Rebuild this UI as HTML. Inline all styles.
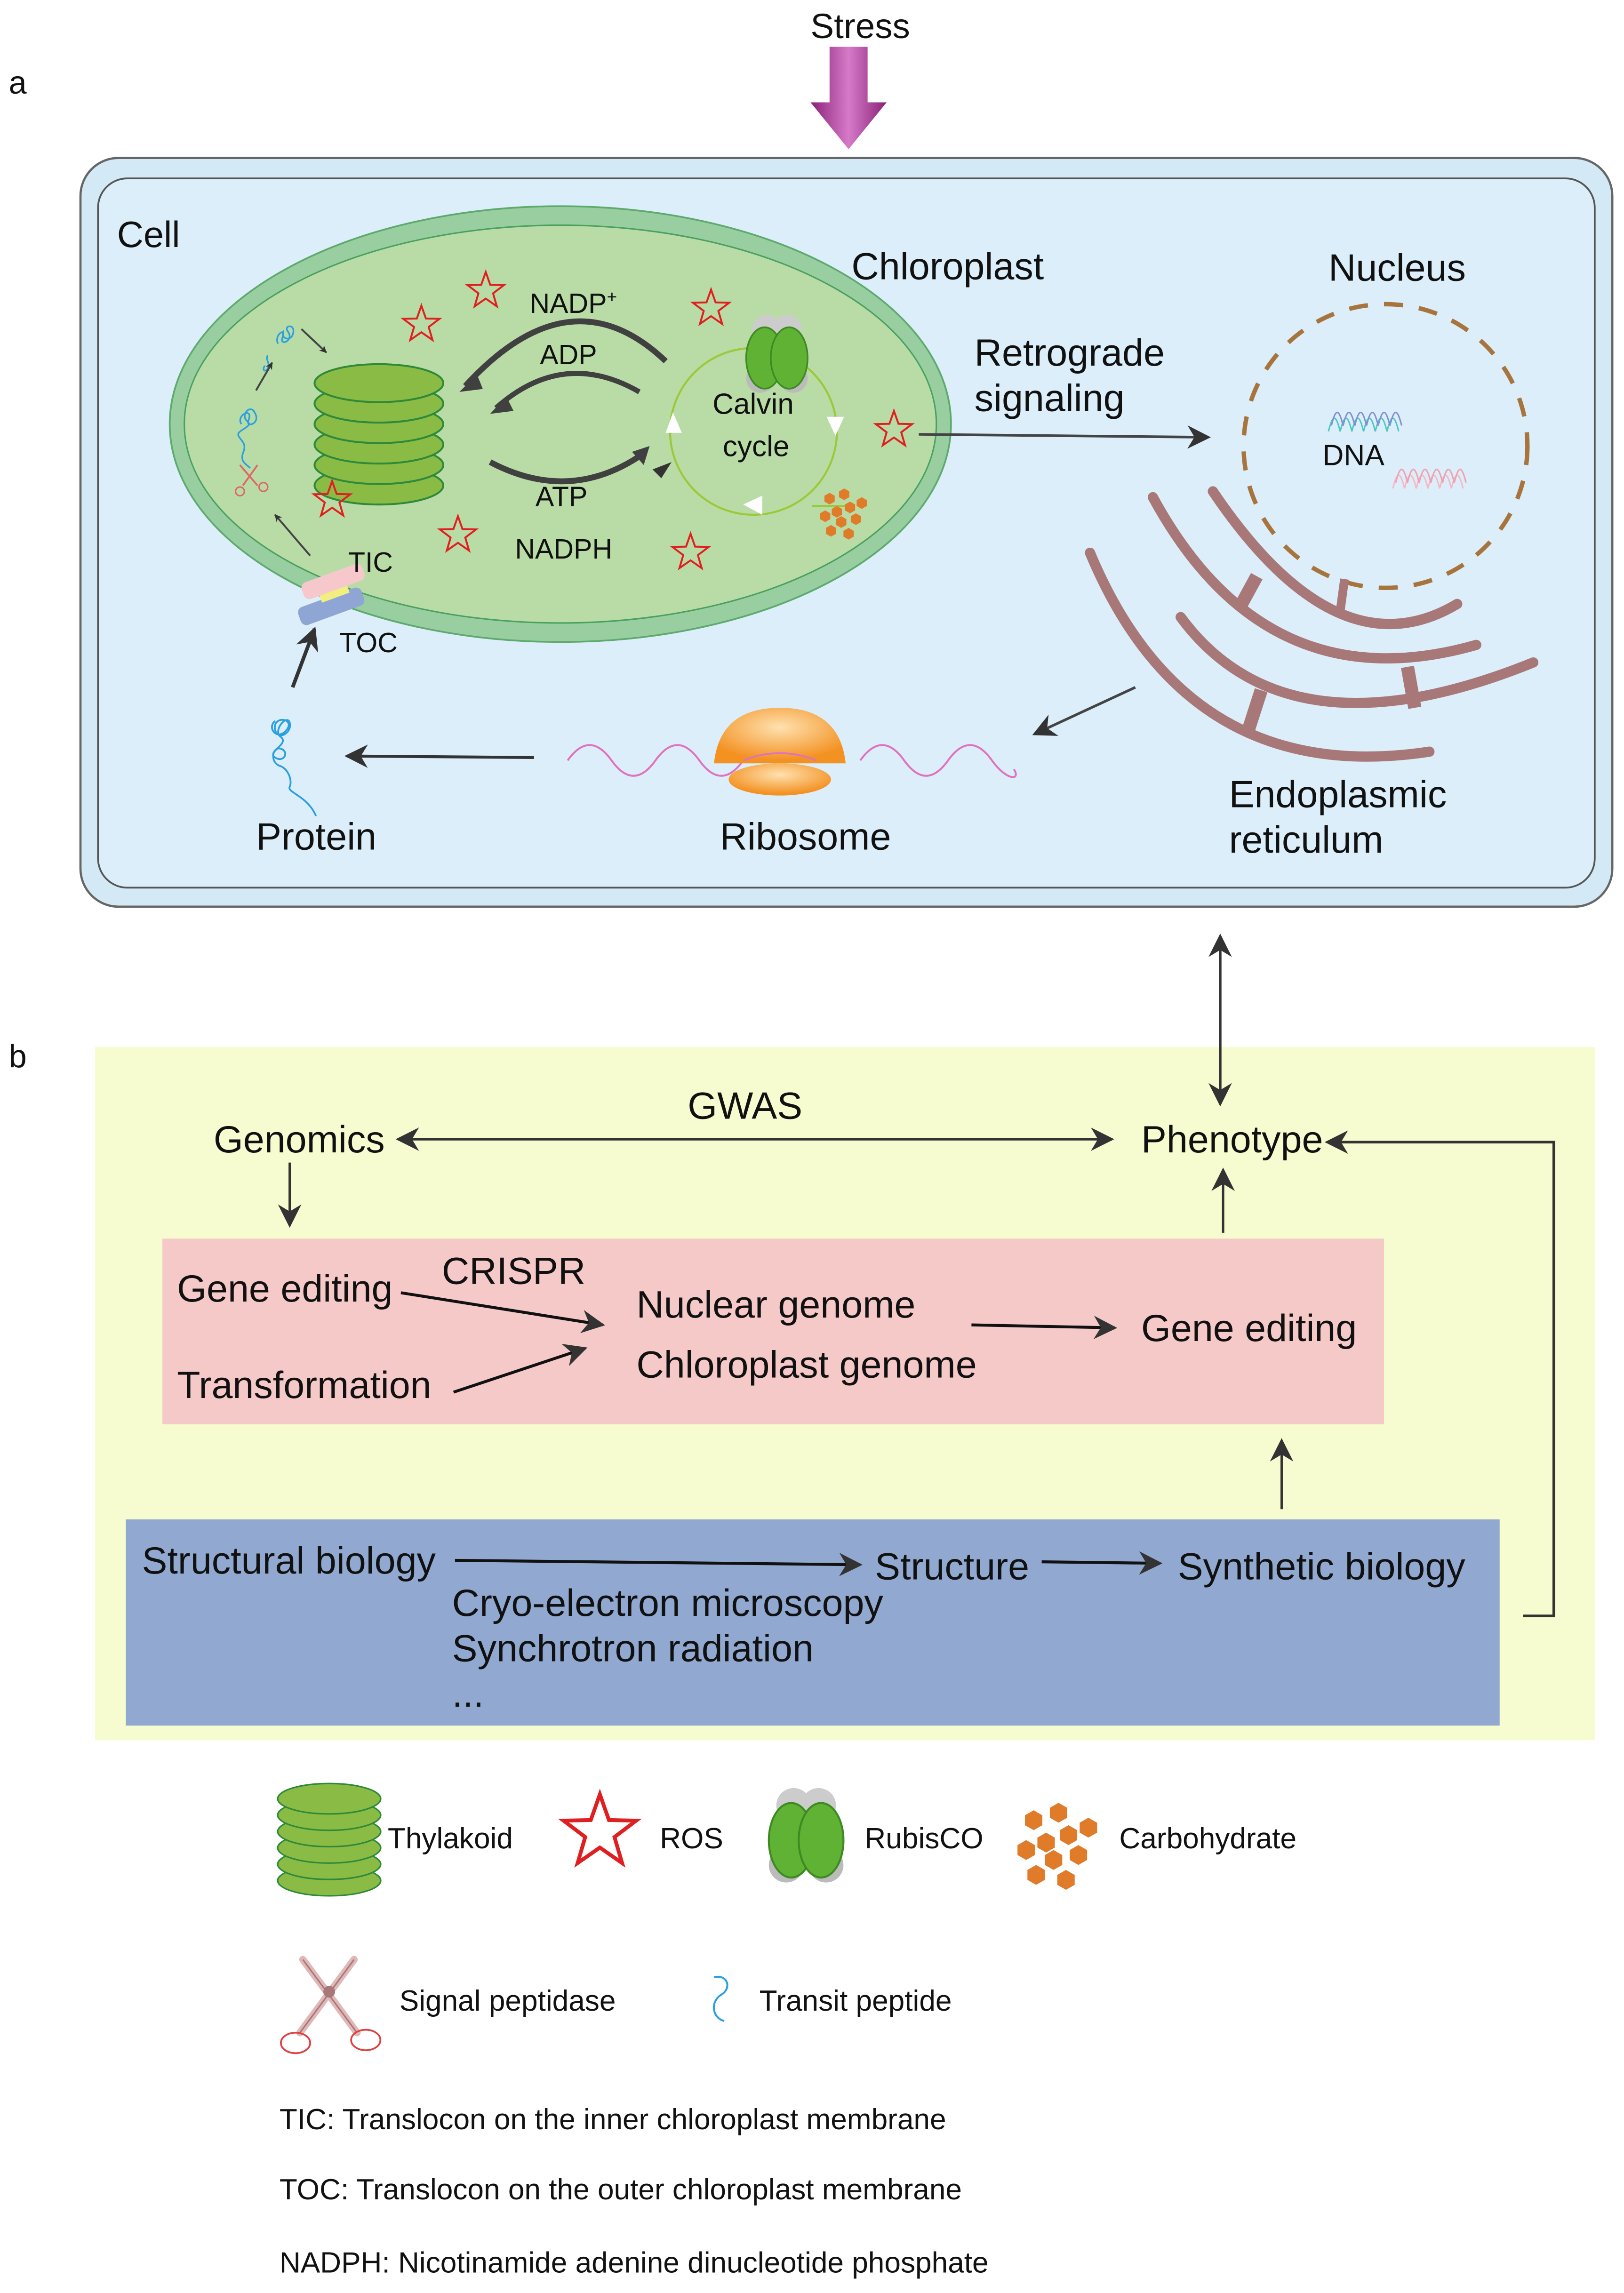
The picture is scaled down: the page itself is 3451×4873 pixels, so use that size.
<!DOCTYPE html>
<html><head><meta charset="utf-8"><style>html,body{margin:0;padding:0;background:#fff}svg{display:block}text{font-family:"Liberation Sans",Arial,sans-serif;fill:#111}</style></head>
<body>
<svg width="3451" height="4873" viewBox="0 0 1110 1568" preserveAspectRatio="none" xmlns="http://www.w3.org/2000/svg">
<defs>
<marker id="ah" viewBox="0 0 10 10" refX="9" refY="5" markerWidth="5" markerHeight="5" orient="auto-start-reverse" markerUnits="userSpaceOnUse"><path d="M0,0 L10,5 L0,10 L3,5z" fill="#333"/></marker>
<marker id="ahb" viewBox="0 0 10 10" refX="9" refY="5" markerWidth="16" markerHeight="16" orient="auto-start-reverse" markerUnits="userSpaceOnUse"><path d="M0,0 L10,5 L0,10 L3,5z" fill="#333"/></marker>
<linearGradient id="pg" x1="0" x2="1"><stop offset="0" stop-color="#8a2278"/><stop offset=".5" stop-color="#d67ac8"/><stop offset="1" stop-color="#8a2278"/></linearGradient>
<radialGradient id="og" cx=".5" cy=".35" r=".6"><stop offset="0" stop-color="#ffe1b0"/><stop offset="1" stop-color="#f39121"/></radialGradient>
<path id="star" d="M0,-13 L3.1,-4.2 12.4,-4 5,1.6 7.6,10.5 0,5.2 -7.6,10.5 -5,1.6 -12.4,-4 -3.1,-4.2z" fill="none" stroke="#e02020" stroke-width="1.3"/>
<g id="hex"><polygon points="0,-4 3.5,-2 3.5,2 0,4 -3.5,2 -3.5,-2" fill="#e07b2a"/></g>
<g id="thy">
<g fill="#8abb44" stroke="#2e8a3a" stroke-width="1.3">
<ellipse cx="0" cy="70" rx="44" ry="13"/><ellipse cx="0" cy="56" rx="44" ry="13"/><ellipse cx="0" cy="42" rx="44" ry="13"/><ellipse cx="0" cy="28" rx="44" ry="13"/><ellipse cx="0" cy="14" rx="44" ry="13"/><ellipse cx="0" cy="0" rx="44" ry="13"/></g></g>
<g id="rub"><circle cx="-5" cy="-12" r="7" fill="#ccc"/><circle cx="5" cy="-12" r="7" fill="#ccc"/><circle cx="-8" cy="12" r="7" fill="#bbb"/><circle cx="8" cy="12" r="7" fill="#bbb"/><ellipse cx="-6" cy="2" rx="9" ry="15" fill="#5fb233" stroke="#3d8a22" stroke-width=".8"/><ellipse cx="6" cy="2" rx="9" ry="15" fill="#5fb233" stroke="#3d8a22" stroke-width=".8"/></g>
<g id="carb"><use href="#hex" x="0" y="0"/><use href="#hex" x="9" y="-3"/><use href="#hex" x="-5" y="-9"/><use href="#hex" x="5" y="-12"/><use href="#hex" x="-8" y="3"/><use href="#hex" x="3" y="7"/><use href="#hex" x="13" y="5"/><use href="#hex" x="-4" y="13"/><use href="#hex" x="8" y="15"/><use href="#hex" x="17" y="-6"/></g>
</defs>

<text x="588" y="26" font-size="24" text-anchor="middle">Stress</text>
<path d="M567,32 H593 V70 H606 L580,102 L554,70 H567z" fill="url(#pg)"/>
<text x="6" y="64" font-size="22">a</text>
<text x="6" y="730" font-size="22">b</text>

<rect x="55" y="108" width="1047" height="512" rx="26" fill="#d3e9f6" stroke="#666" stroke-width="1.5"/>
<rect x="67" y="122" width="1023" height="485" rx="20" fill="#dbeef9" stroke="#555" stroke-width="1.2"/>
<text x="80" y="169" font-size="25">Cell</text>

<ellipse cx="383" cy="290" rx="267" ry="149" fill="#99cfa0" stroke="#5eaa6e" stroke-width="1.2"/>
<ellipse cx="383" cy="290" rx="257" ry="136" fill="#b9dca6" stroke="#4aa060" stroke-width="1"/>
<text x="582" y="191" font-size="26">Chloroplast</text>
<use href="#thy" x="259" y="262"/>
<path d="M455,247 Q390,185 318,264" fill="none" stroke="#404040" stroke-width="4"/>
<path d="M326,256 L314,268 L330,266z" fill="#404040"/>
<path d="M437,268 Q385,238 339,279" fill="none" stroke="#404040" stroke-width="3.5"/>
<path d="M346,271 L335,283 L351,281z" fill="#404040"/>
<path d="M335,316 Q390,345 440,310" fill="none" stroke="#404040" stroke-width="4"/>
<path d="M432,309 L444,305 L440,318z" fill="#404040"/>
<path d="M459,316 L452,327 L446,321z" fill="#333"/>
<text x="362" y="214" font-size="19">NADP<tspan font-size="12" dy="-7">+</tspan></text>
<text x="369" y="249" font-size="19">ADP</text>
<text x="366" y="346" font-size="19">ATP</text>
<text x="352" y="382" font-size="19">NADPH</text>
<circle cx="515" cy="295" r="57" fill="none" stroke="#9cc93a" stroke-width="1.4"/>
<path d="M555,346 H578" stroke="#9cc93a" stroke-width="1.4"/>
<path d="M460,282 L466,296 L455,296z" fill="#fff"/>
<path d="M565,285 L577,285 L571,298z" fill="#fff"/>
<path d="M508,345 L521,339 L521,352z" fill="#fff"/>
<text x="487" y="283" font-size="20">Calvin</text>
<text x="494" y="312" font-size="20">cycle</text>
<g transform="translate(531,242) scale(1.4)"><use href="#rub"/></g>
<use href="#carb" x="572" y="350"/>
<use href="#star" x="332" y="199"/><use href="#star" x="288" y="222"/><use href="#star" x="486" y="211"/>
<use href="#star" x="611" y="294"/><use href="#star" x="227" y="342"/><use href="#star" x="313" y="366"/><use href="#star" x="472" y="378"/>
<path d="M190,235 c-3,-6 6,-12 3,-4 c-2,6 8,2 4,-4 c-4,-5 6,-6 3,2 c-2,5 -9,2 -6,-3 M183,243 c-2,3 2,5 0,9 c-2,3 -4,1 -2,-2" fill="none" stroke="#2aa0e0" stroke-width="1.1"/>
<path d="M175,267 L186,248" stroke="#444" stroke-width="1.3" marker-end="url(#ah)"/>
<path d="M206,225 L223,241" stroke="#444" stroke-width="1.3" marker-end="url(#ah)"/>
<path d="M165,290 c-4,-6 8,-12 5,-3 c-3,6 9,3 4,-5 c-3,-6 -10,2 -5,6 c5,4 -8,6 -6,10 c2,4 6,5 3,12 c-2,6 3,8 5,10" fill="none" stroke="#2aa0e0" stroke-width="1.1"/>
<path d="M164,318 L176,332 M176,318 L166,332" stroke="#d66" stroke-width="1.2"/><circle cx="164" cy="336" r="3" fill="none" stroke="#d66"/><circle cx="180" cy="333" r="3" fill="none" stroke="#d66"/>
<path d="M212,380 L188,352" stroke="#444" stroke-width="1.3" marker-end="url(#ah)"/>
<g transform="rotate(-20 225 405)"><rect x="200" y="408" width="46" height="13" rx="4" fill="#8fa6d4"/><rect x="218" y="402" width="20" height="8" fill="#f2ee80"/><rect x="208" y="393" width="44" height="12" rx="4" fill="#f6c8cc"/></g>
<text x="238" y="391" font-size="19">TIC</text>
<text x="232" y="446" font-size="19">TOC</text>
<path d="M200,470 L215,430" stroke="#333" stroke-width="2.5" marker-end="url(#ahb)"/>

<text x="666" y="250" font-size="26">Retrograde</text>
<text x="666" y="281" font-size="26">signaling</text>
<path d="M628,297 L826,299" stroke="#444" stroke-width="1.8" marker-end="url(#ahb)"/>
<text x="908" y="192" font-size="26">Nucleus</text>
<circle cx="947" cy="305" r="97" fill="none" stroke="#a8743e" stroke-width="3" stroke-dasharray="13,11"/>
<text x="904" y="318" font-size="20">DNA</text>
<path d="M908,295 c3,-12 5,-12 8,0 c3,-12 5,-12 8,0 c3,-12 5,-12 8,0 c3,-12 5,-12 8,0 c3,-12 5,-12 8,0 c3,-12 5,-12 8,0" fill="none" stroke="#4cc8c0" stroke-width="1"/>
<path d="M910,291 c3,-12 5,-12 8,0 c3,-12 5,-12 8,0 c3,-12 5,-12 8,0 c3,-12 5,-12 8,0 c3,-12 5,-12 8,0 c3,-12 5,-12 8,0" fill="none" stroke="#8090d0" stroke-width="1"/>
<path d="M952,334 c3,-12 5,-12 8,0 c3,-12 5,-12 8,0 c3,-12 5,-12 8,0 c3,-12 5,-12 8,0 c3,-12 5,-12 8,0 c3,-12 5,-12 8,0" fill="none" stroke="#f6b8c4" stroke-width="1"/>
<path d="M954,330 c3,-12 5,-12 8,0 c3,-12 5,-12 8,0 c3,-12 5,-12 8,0 c3,-12 5,-12 8,0 c3,-12 5,-12 8,0 c3,-12 5,-12 8,0" fill="none" stroke="#f0a0b0" stroke-width="1"/>
<g fill="none" stroke="#a87878" stroke-width="7" stroke-linecap="round">
<path d="M829,336 Q914,462 996,413"/>
<path d="M788,340 Q865,482 1009,441"/>
<path d="M807,422 Q880,521 1048,453"/>
<path d="M745,378 Q812,539 977,514"/>
</g>
<g stroke="#a87878" stroke-width="9">
<path d="M859,394 L847,416"/><path d="M919,396 L916,418" stroke-width="6"/><path d="M962,456 L967,484"/><path d="M862,472 L853,500"/>
</g>
<path d="M776,470 L707,502" stroke="#444" stroke-width="1.8" marker-end="url(#ahb)"/>
<text x="840" y="552" font-size="26">Endoplasmic</text>
<text x="840" y="583" font-size="26">reticulum</text>
<path d="M388,520 c10,-14 20,-14 30,0 c10,14 20,14 30,0 c10,-14 20,-14 30,0 c10,14 20,14 30,0 M588,520 c10,-14 20,-14 30,0 c10,14 20,14 30,0 c10,-14 20,-14 30,0 c10,14 20,14 15,6" fill="none" stroke="#e070c0" stroke-width="1.3"/>
<path d="M488,522 Q492,484 533,484 Q574,484 578,522z" fill="url(#og)"/>
<ellipse cx="533" cy="533" rx="35" ry="11" fill="url(#og)"/>
<path d="M508,520 Q533,510 558,520" fill="none" stroke="#e070c0" stroke-width="1.2"/>
<text x="492" y="581" font-size="26">Ribosome</text>
<path d="M365,518 L237,517" stroke="#333" stroke-width="2" marker-end="url(#ahb)"/>
<path d="M188,493 c-6,5 2,14 8,6 c6,-8 -10,-10 -8,0 c2,8 12,2 10,-5 c-2,-6 -12,6 -6,10 c6,5 -10,10 -4,14 c6,4 10,-4 4,-6 c-6,-2 -8,10 0,12 c5,2 8,10 6,14 c-2,4 12,6 18,20" fill="none" stroke="#2aa0e0" stroke-width="1.2"/>
<text x="175" y="581" font-size="26">Protein</text>

<rect x="65" y="716" width="1025" height="474" fill="#f6fccf"/>
<path d="M834,640 L834,755" stroke="#333" stroke-width="1.8" marker-start="url(#ahb)" marker-end="url(#ahb)"/>
<text x="470" y="765" font-size="26">GWAS</text>
<text x="146" y="788" font-size="26">Genomics</text>
<text x="780" y="788" font-size="26">Phenotype</text>
<path d="M272,779 L760,779" stroke="#333" stroke-width="1.8" marker-start="url(#ahb)" marker-end="url(#ahb)"/>
<path d="M198,795 L198,838" stroke="#333" stroke-width="1.6" marker-end="url(#ahb)"/>
<rect x="111" y="847" width="835" height="127" fill="#f6c9c9"/>
<path d="M836,843 L836,800" stroke="#333" stroke-width="1.6" marker-end="url(#ahb)"/>
<text x="121" y="890" font-size="26">Gene editing</text>
<text x="302" y="878" font-size="26">CRISPR</text>
<text x="435" y="901" font-size="26">Nuclear genome</text>
<text x="435" y="942" font-size="26">Chloroplast genome</text>
<text x="121" y="956" font-size="26">Transformation</text>
<text x="780" y="917" font-size="26">Gene editing</text>
<path d="M274,884 L412,906" stroke="#111" stroke-width="2" marker-end="url(#ahb)"/>
<path d="M310,952 L400,922" stroke="#111" stroke-width="2" marker-end="url(#ahb)"/>
<path d="M664,906 L762,908" stroke="#111" stroke-width="2" marker-end="url(#ahb)"/>
<path d="M876,1032 L876,985" stroke="#333" stroke-width="1.6" marker-end="url(#ahb)"/>
<rect x="86" y="1039" width="939" height="141" fill="#91a9d0"/>
<text x="97" y="1076" font-size="26">Structural biology</text>
<text x="598" y="1080" font-size="26">Structure</text>
<text x="805" y="1080" font-size="26">Synthetic biology</text>
<text x="309" y="1105" font-size="26">Cryo-electron microscopy</text>
<text x="309" y="1136" font-size="26">Synchrotron radiation</text>
<text x="309" y="1167" font-size="26">...</text>
<path d="M311,1067 L588,1070" stroke="#111" stroke-width="2" marker-end="url(#ahb)"/>
<path d="M712,1068 L793,1069" stroke="#111" stroke-width="2" marker-end="url(#ahb)"/>
<path d="M1041,1105 H1062 V781 H907" fill="none" stroke="#333" stroke-width="1.8" marker-end="url(#ahb)"/>

<g transform="translate(225,1230) scale(0.8)"><use href="#thy"/></g>
<text x="265" y="1264" font-size="20">Thylakoid</text>
<g transform="translate(410,1253) scale(2)"><use href="#star"/></g>
<text x="451" y="1264" font-size="20">ROS</text>
<g transform="translate(551,1255) scale(1.7)"><use href="#rub"/></g>
<text x="591" y="1264" font-size="20">RubisCO</text>
<g transform="translate(715,1260) scale(1.7)"><use href="#carb"/></g>
<text x="765" y="1264" font-size="20">Carbohydrate</text>
<path d="M207,1340 L244,1390 M242,1340 L205,1390" stroke="#e0b8b8" stroke-width="5" stroke-linecap="round"/>
<path d="M207,1340 L244,1390 M242,1340 L205,1390" stroke="#a87878" stroke-width="1"/>
<circle cx="225" cy="1362" r="4" fill="#a87878"/>
<ellipse cx="202" cy="1397" rx="10" ry="7" fill="none" stroke="#e04040" stroke-width="1.2"/>
<ellipse cx="250" cy="1395" rx="10" ry="7" fill="none" stroke="#e04040" stroke-width="1.2"/>
<text x="273" y="1375" font-size="20">Signal peptidase</text>
<path d="M488,1352 c10,-2 12,8 5,12 c-8,5 -6,16 2,18" fill="none" stroke="#2aa0e0" stroke-width="1.3"/>
<text x="519" y="1375" font-size="20">Transit peptide</text>
<text x="191" y="1456" font-size="20">TIC: Translocon on the inner chloroplast membrane</text>
<text x="191" y="1504" font-size="20">TOC: Translocon on the outer chloroplast membrane</text>
<text x="191" y="1554" font-size="20">NADPH: Nicotinamide adenine dinucleotide phosphate</text>
</svg>
</body></html>
